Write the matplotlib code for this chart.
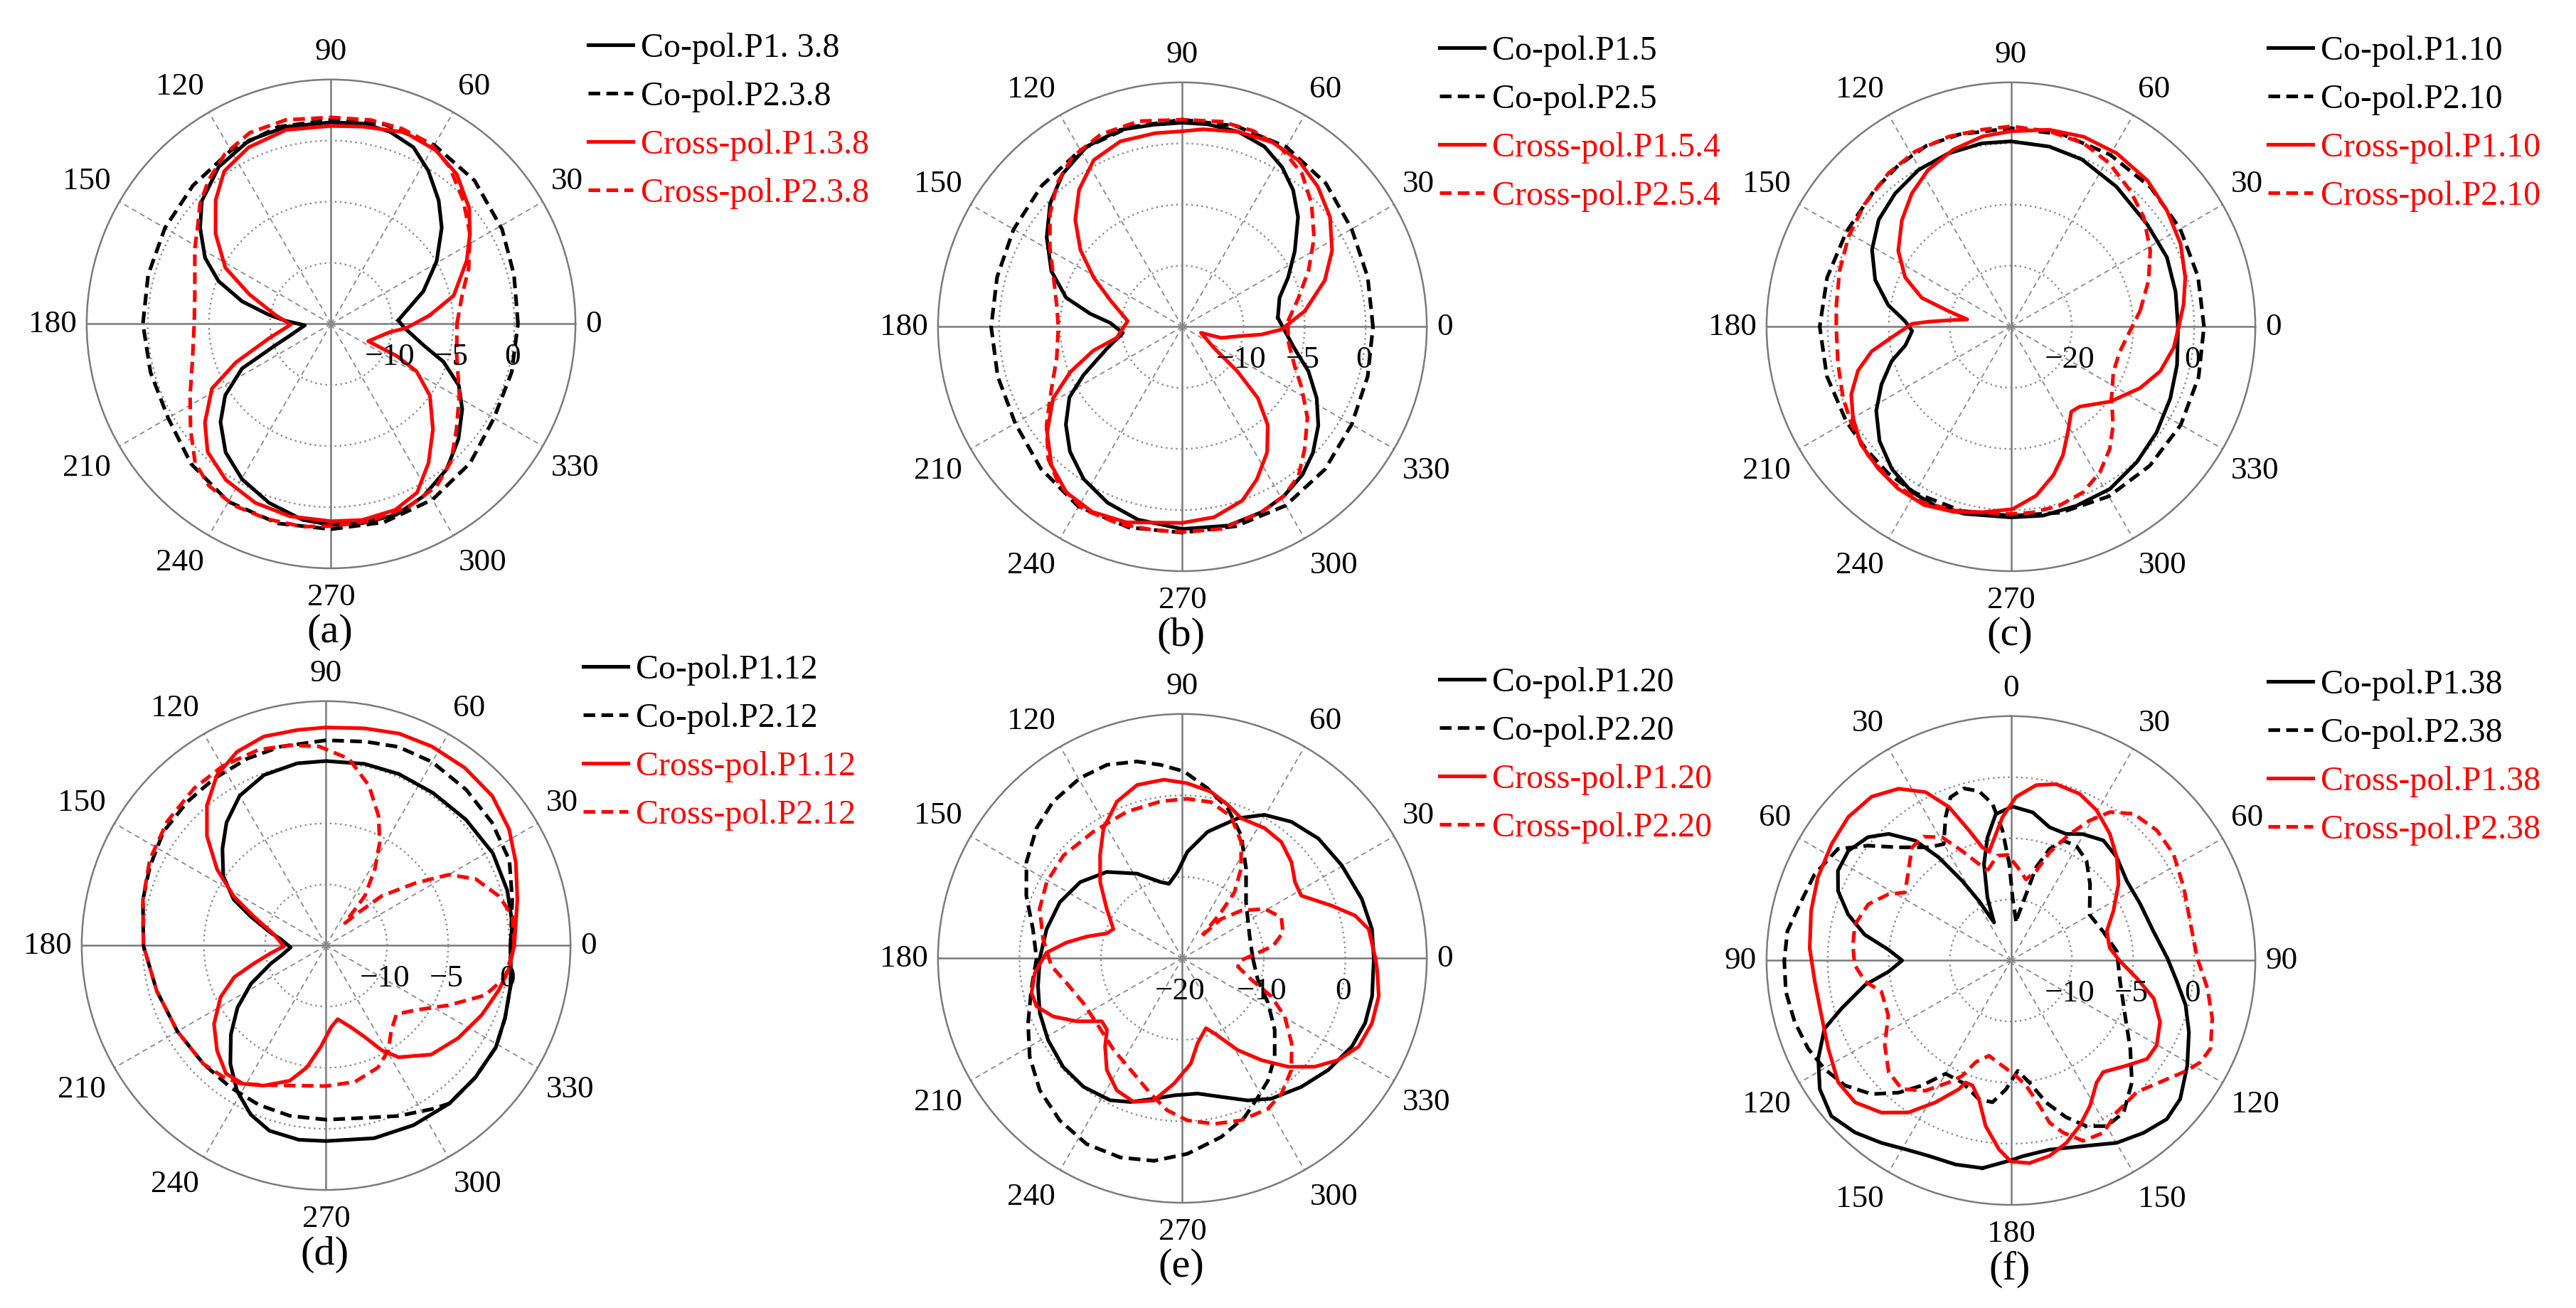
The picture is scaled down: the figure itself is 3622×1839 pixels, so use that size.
import numpy as np
import matplotlib
matplotlib.use("Agg")
import matplotlib.pyplot as plt
from matplotlib import font_manager

_names = {f.name for f in font_manager.fontManager.ttflist}
_serif = [n for n in ['Liberation Serif', 'Times New Roman', 'Nimbus Roman', 'DejaVu Serif'] if n in _names]
plt.rcParams['font.family'] = 'serif'
plt.rcParams['font.serif'] = _serif + ['DejaVu Serif']

# ---------------- data (angle in degrees, gain in dB) ----------------
# (a) 3.8 GHz
A_CO1_DEG = [3, 19.4, 30.7, 41, 48.9, 57.6, 65, 73, 81, 90, 102.9, 114.1, 125.6, 136.4, 143.7, 152.3, 159.2, 165.8, 171.7, 176.2, 183, 195.9, 200.9, 206.6, 214, 221.6, 230.6, 240.2, 250.9, 261.7, 270, 279.1, 288.9, 298.2, 308.5, 317.9, 327, 334.3, 341.4, 347.1, 356.6]
A_CO1_DB = [-9.5, -7.0, -4.95, -3.0, -1.6, -0.15, 0.95, 1.45, 1.6, 1.5, 1.55, 1.45, 0.8, -0.4, -1.7, -3.35, -5.15, -7.5, -9.85, -11.3, -12.85, -11.5, -10.15, -6.85, -4.55, -2.9, -1.4, -0.35, 0.5, 1.2, 1.45, 1.5, 1.5, 1.0, 0.2, -0.95, -2.2, -3.4, -5.3, -7.25, -8.95]
A_CO2_DEG = [0, 15, 29, 45, 60, 75, 90, 105, 120, 135, 150, 165, 180, 195, 210, 225, 240, 255, 270, 285, 300, 315, 330, 345]
A_CO2_DB = [0.3, 0.5, 1.0, 1.6, 1.9, 1.9, 1.7, 1.7, 1.4, 1.0, 0.7, 0.5, 0.4, 0.3, 0.4, 1.2, 1.8, 1.9, 1.8, 1.8, 1.6, 1.1, 0.4, 0.3]
A_X1_DEG = [5, 13, 25, 33, 40, 50, 59, 69, 81, 90, 103, 115, 125, 133, 142, 152, 160, 171, 181, 193, 202, 208.5, 218, 226, 236, 247, 258, 270, 279, 289, 297, 305, 314, 324, 331, 334, 335, 352, 357]
A_X1_DB = [-6.9, -4.7, -2.75, -1.45, -0.25, 1.0, 1.6, 1.8, 1.35, 1.2, 1.3, 0.95, 0.25, -1.15, -3.0, -5.2, -7.85, -10.4, -11.7, -9.8, -6.6, -3.9, -1.9, -0.45, 0.4, 0.9, 1.1, 1.15, 1.25, 1.1, 0.5, -1.1, -3.0, -5.0, -7.0, -9.05, -11.65, -10.15, -8.8]
A_X2_DEG = [0, 12.6, 22, 33, 43, 53, 61, 70, 79, 90, 102.5, 113, 122, 130.5, 137.5, 144, 151, 168, 180, 195, 207, 217, 225.6, 233, 242, 252, 262, 270, 281, 293, 303, 311, 320, 331, 346]
A_X2_DB = [-4.7, -4.0, -2.85, -1.45, -0.2, 1.1, 1.85, 2.0, 2.0, 1.9, 2.1, 2.0, 1.4, 0.45, -0.45, -1.5, -2.25, -3.6, -3.8, -3.25, -2.05, -0.6, 0.9, 1.6, 1.85, 1.8, 1.75, 1.55, 1.45, 1.25, 0.85, -0.05, -1.6, -3.0, -4.4]

# (b) 5 / 5.4 GHz
B_CO1_DEG = [5.4, 16.7, 25, 34, 43.5, 51, 58, 65.5, 74, 83, 90, 98, 107.5, 118, 128, 137, 146.6, 157, 166, 172, 177, 186, 196, 206, 212, 220, 228, 237, 247, 257, 270, 283, 293, 301, 309, 316, 324, 332, 340.5, 349, 357.6]
B_CO1_DB = [-7.15, -6.7, -5.45, -3.9, -1.95, -0.6, 0.4, 1.2, 1.6, 1.7, 1.7, 1.7, 1.9, 1.7, 0.9, -0.2, -1.7, -3.35, -5.2, -7.4, -9.1, -10.1, -8.6, -6.0, -4.1, -2.55, -1.25, -0.15, 0.65, 1.2, 1.55, 1.7, 1.5, 1.15, 0.6, -0.15, -1.25, -2.55, -4.05, -5.65, -6.6]
B_CO2_DEG = [0, 15, 30, 45, 60, 75, 90, 105, 120, 135, 150, 165, 180, 195, 210, 225, 240, 255, 270, 285, 300, 315, 330, 345]
B_CO2_DB = [0.6, 0.7, 1.0, 1.6, 2.0, 2.0, 1.95, 1.9, 1.7, 1.3, 0.95, 0.7, 0.65, 0.65, 0.8, 1.4, 2.0, 2.0, 1.85, 1.9, 1.9, 1.5, 1.0, 0.7]
B_X1_DEG = [7.3, 18, 27, 36.6, 46, 55, 64, 74, 84, 90, 98, 108.5, 118, 127, 135, 143, 151, 160, 174, 189.6, 195, 202, 209, 218, 226.6, 235, 244, 254, 270, 279.5, 289, 296, 304, 311, 316.6, 321, 326, 342, 344, 351, 354.4, 358.4]
B_X1_DB = [-4.9, -2.75, -1.25, 0.05, 0.95, 1.6, 1.8, 1.6, 1.25, 1.0, 1.0, 1.0, 0.45, -0.95, -2.6, -4.55, -6.7, -8.75, -10.5, -9.55, -7.45, -5.1, -2.9, -0.95, 0.6, 1.55, 1.85, 1.65, 1.05, 0.8, 0.05, -1.1, -2.6, -4.35, -6.5, -9.2, -11.85, -13.4, -11.7, -10.15, -8.5, -6.9]
B_X2_DEG = [3, 14, 24, 34, 43.6, 52, 61, 70, 79, 90, 102, 113, 123, 131, 139.5, 149, 159, 170, 180, 194, 206, 216, 224.5, 232, 241.5, 252.5, 262, 270, 281, 293, 301, 308, 315, 324, 333, 341, 352]
B_X2_DB = [-6.35, -5.2, -3.7, -2.0, -0.4, 0.9, 1.7, 2.05, 2.1, 1.95, 2.2, 2.1, 1.55, 0.6, -0.75, -2.35, -3.7, -4.55, -4.85, -4.4, -3.05, -1.25, 0.4, 1.4, 2.0, 1.95, 1.8, 1.8, 1.85, 1.5, 1.15, 0.45, -0.85, -2.35, -4.05, -5.3, -6.25]

# (c) 10 GHz
C_CO1_DEG = [0, 12, 24, 37, 53, 67, 78, 90, 99, 110, 120.5, 131, 141, 151, 161, 170, 177, 182.5, 190, 196, 204, 212, 221, 230, 239, 247, 256, 270, 279.6, 290, 301.4, 313, 324, 335.8, 347]
C_CO1_DB = [-2.65, -2.45, -2.05, -2.1, -1.3, -0.25, 0.15, 0.35, 0.4, 0.15, -0.2, -1.1, -2.15, -4.0, -6.5, -9.6, -12.65, -13.8, -12.45, -9.7, -6.8, -4.0, -1.5, 0.35, 1.55, 1.8, 1.55, 1.2, 1.35, 1.2, 1.1, 0.25, -0.55, -1.4, -2.1]
C_CO2_DEG = [0, 15, 30, 45, 60, 75, 90, 105, 115, 125, 135, 150, 165, 180, 195, 210, 220, 230, 240, 255, 270, 285, 300, 315, 330, 345]
C_CO2_DB = [1.6, 1.7, 2.0, 2.3, 2.5, 2.6, 2.5, 2.6, 2.7, 2.2, 1.6, 1.1, 1.15, 1.3, 1.2, 1.1, 1.05, 1.3, 1.4, 1.2, 0.95, 1.5, 2.05, 2.15, 2.1, 1.8]
C_X1_DEG = [0, 7.4, 15.8, 26, 36.7, 47, 58.6, 69, 79, 90, 98.5, 108, 118, 126.6, 135.7, 146, 155, 162, 166, 170.4, 174, 176.5, 178.3, 185, 190, 196, 203, 210, 218, 227, 235, 244, 253, 261, 270.5, 278.5, 286, 292, 298.5, 305.4, 310.7, 323, 334.6, 343.4, 352.6]
C_X1_DB = [-2.55, -1.5, -0.35, 0.9, 1.85, 2.75, 3.25, 3.3, 2.85, 2.0, 1.5, 0.5, -1.0, -2.8, -5.05, -7.75, -10.9, -14.65, -19.5, -22.75, -19.8, -16.5, -13.8, -10.45, -6.85, -3.95, -1.6, -0.15, 1.2, 1.8, 2.3, 2.45, 1.7, 0.75, -0.15, -2.05, -4.75, -7.3, -10.45, -12.95, -12.75, -9.65, -6.6, -4.5, -3.15]
C_X2_DEG = [7, 18.5, 28.7, 39.6, 49, 59, 68.5, 79, 90, 98, 108, 118.6, 128.6, 140, 151, 162, 172.7, 180, 192, 203, 212, 222, 232.5, 243, 253, 261, 270, 276.7, 285, 293.6, 301.5, 309, 316, 324.6, 336.4, 347.3, 358]
C_X2_DB = [-8.7, -6.25, -4.0, -1.8, -0.35, 1.25, 2.3, 2.6, 2.8, 2.6, 2.75, 2.7, 2.15, 1.25, 0.4, -0.5, -1.2, -1.4, -1.05, -0.15, 0.65, 1.45, 2.05, 2.2, 1.45, 0.75, 0.65, 0.6, 0.35, -0.45, -2.1, -4.3, -6.75, -9.8, -11.7, -11.7, -10.5]

# (d) 12 GHz
D_CO1_DEG = [0, 7, 17, 29, 42, 55, 67, 78, 90, 99, 110, 120, 129, 137, 146, 153.5, 159, 167, 172, 183, 192.9, 198, 207, 215, 223, 231, 238.5, 246, 253, 262, 270, 284, 296, 308, 318.5, 329, 338, 348]
D_CO1_DB = [0.1, 0.35, 0.5, 0.6, 0.4, 0.25, 0.25, 0.2, 0.1, 0.1, -0.15, -0.85, -2.05, -3.4, -4.85, -6.55, -8.4, -10.35, -11.25, -12.1, -11.2, -10.25, -8.1, -6.15, -4.35, -2.55, -1.05, 0.15, 0.85, 1.05, 1.0, 1.25, 1.35, 1.4, 1.3, 1.2, 0.8, 0.45]
D_CO2_DEG = [0, 14, 25, 36.6, 48, 60, 70, 79, 90, 103, 113, 124, 134, 145, 156, 166, 180, 195, 210, 224, 236, 247, 258, 270, 282.6, 293, 303, 308, 318.5, 329, 338, 348]
D_CO2_DB = [0.1, 0.7, 1.55, 1.9, 2.15, 2.35, 2.3, 2.0, 1.8, 1.7, 1.6, 1.45, 1.35, 1.25, 0.8, 0.45, -0.05, -0.65, -0.95, -1.05, -1.0, -0.85, -0.75, -0.75, -0.55, 0.15, 0.95, 1.4, 1.3, 1.2, 0.8, 0.45]
D_X1_DEG = [0, 7, 13.5, 23.6, 32.5, 42, 52, 62, 71, 80, 90, 97.5, 106.6, 114.7, 122.7, 130.4, 137.4, 145, 152, 158, 168, 181, 188, 194, 199, 206, 215, 224, 232, 239, 246, 255, 261, 267, 273.5, 279, 287, 293, 298, 303, 314, 325, 336, 345.5, 353]
D_X1_DB = [0.4, 0.65, 1.1, 1.95, 2.75, 3.3, 3.45, 3.45, 3.35, 3.05, 2.85, 2.8, 2.85, 2.45, 1.55, 0.05, -1.75, -4.1, -6.45, -8.6, -10.65, -11.55, -10.4, -8.9, -7.05, -5.4, -3.8, -2.6, -1.7, -1.8, -2.45, -3.55, -4.9, -6.7, -8.3, -8.9, -8.0, -6.85, -5.3, -4.1, -2.6, -1.8, -1.05, -0.4, 0.1]
D_X2_DEG = [0, 9, 16, 24, 30, 35, 41.7, 45.6, 50, 52, 57.4, 62.5, 68, 75, 83, 92, 100, 109, 120, 130, 142, 154, 166, 180, 195, 210, 224, 232, 238, 246, 258.5, 270, 282, 293, 300.6, 307.6, 315.7, 324, 334, 342.7, 350]
D_X2_DB = [0.4, 0.45, -0.3, -1.6, -3.4, -6.1, -8.9, -11.25, -12.6, -9.85, -7.6, -5.5, -3.55, -1.45, 0.4, 1.3, 1.65, 1.95, 1.95, 1.8, 1.5, 1.05, 0.45, -0.05, -0.65, -0.95, -1.05, -1.35, -1.7, -2.5, -3.3, -3.5, -3.6, -4.15, -5.0, -6.25, -6.95, -6.0, -3.85, -1.35, -0.1]

# (e) 20 GHz
E_CO1_DEG = [0, 8.8, 18.3, 30.3, 41.4, 51.4, 60.2, 68.4, 78.7, 87.3, 93.3, 100.2, 106, 118.2, 131.2, 143.3, 155.4, 167.9, 180, 190.9, 201, 211.3, 222.3, 232.4, 243, 250.1, 258.5, 266.5, 276.4, 285.6, 294.7, 302.4, 312.8, 322.6, 332.5, 340.5, 348.7]
E_CO1_DB = [3.5, 3.55, 3.2, 2.65, 2.25, 1.45, 0.3, -1.5, -4.15, -6.9, -9.4, -10.7, -10.25, -8.2, -5.9, -4.35, -3.45, -2.95, -2.5, -1.95, -1.25, -0.7, -0.2, -0.1, -0.45, -1.25, -2.4, -3.15, -3.3, -2.35, -0.8, 0.4, 1.5, 2.55, 3.45, 3.8, 3.75]
E_CO2_DEG = [0, 18.5, 41.3, 54.6, 64.5, 73.2, 81.6, 89.5, 96.4, 103, 111.3, 119.6, 129.5, 138.3, 148.3, 158.1, 168.9, 180, 191.7, 202.8, 212.8, 222.8, 232.9, 242.7, 252.7, 262, 271.5, 282.2, 291.4, 298.6, 305.1, 313.2, 322.2, 332.5, 344.4]
E_CO2_DB = [-11.35, -11.3, -9.6, -6.5, -3.25, -0.75, 1.1, 2.95, 3.9, 4.8, 5.5, 5.45, 4.95, 4.0, 2.5, 0.65, -1.3, -2.1, -1.05, 0.55, 2.3, 3.85, 4.95, 5.65, 5.6, 5.1, 4.0, 2.45, 0.95, -0.6, -1.7, -3.45, -5.65, -8.15, -10.4]
E_X1_DEG = [0, 8.9, 13.9, 19.4, 27.8, 34.1, 41.4, 49.6, 57.7, 67.2, 73.5, 80.3, 88.4, 95.9, 104.6, 112.7, 121.3, 128.6, 137.2, 146.8, 157, 161.6, 167.2, 172.2, 177.6, 185.6, 192.9, 198.2, 204.2, 210.8, 218, 223.4, 228.8, 235.9, 243.6, 251.3, 258.6, 266.2, 274.6, 280.1, 288.6, 293.1, 301.1, 307.8, 314.3, 320.7, 326.9, 333.4, 341.1, 349.1, 356.7]
E_X1_DB = [3.7, 3.15, 1.85, -0.55, -3.5, -3.3, -2.15, -1.25, -1.1, -1.35, -0.35, 0.75, 1.5, 2.05, 2.0, 0.85, -1.35, -3.8, -6.25, -8.9, -10.8, -10.25, -7.95, -5.65, -3.3, -1.8, -1.0, -1.15, -2.6, -4.9, -7.45, -7.25, -5.6, -3.45, -1.9, -1.4, -2.2, -4.6, -7.05, -9.4, -10.95, -10.0, -6.85, -4.2, -1.4, 1.0, 2.85, 4.2, 4.6, 4.55, 3.95]
E_X2_DEG = [49, 45.5, 39, 31, 22.5, 14.4, 7.8, 3.2, -2.7, -8.6, -17.1, -23.1, -29.6, -37.9, -45.7, -53.8, -60.4, -70.1, -79.1, -88.2, -95.7, -103.3, -112.9, -126.9, -142.9, -155.7, -168.1, -176.6, -187.8, -199.1, -209.3, -220.9, -234.9, -249.3, -262.1, -271.8, -280.4, -289, -296.8, -303.2, -308.2, -310]
E_X2_DB = [-16.25, -13.25, -10.7, -8.2, -6.85, -7.25, -8.75, -11.1, -13.0, -13.1, -11.15, -8.15, -5.55, -3.0, -0.85, 0.6, 1.25, 1.15, 0.7, -0.1, -1.25, -2.95, -4.65, -5.95, -6.8, -6.65, -5.45, -3.9, -2.75, -1.45, -0.9, -0.7, -1.0, -0.75, -0.55, -0.4, -0.5, -1.6, -4.0, -6.85, -9.65, -12.6]

# (f) 38 GHz (angle measured from the top, clockwise)
F_CO1_DEG = [-172.2, -164.8, -157.2, -150.8, -144.7, -137.8, -130.9, -123.9, -117, -110.1, -105.8, -99.5, -95.2, -90, -85, -80, -74.2, -68.1, -62.6, -56, -49.2, -44, -38.6, -35, -31.5, -28.2, -24, -20.5, -15.6, -10.8, -5.9, 0.6, 8.4, 16.2, 23.6, 29.7, 37.6, 45.7, 55.5, 66.5, 78.4, 89.1, 97.3, 104.3, 111.9, 120.8, 129.3, 135.5, 142.4, 149.9, 158.8, 168.5, 176.6, 180]
F_CO1_DB = [2.15, 2.3, 2.35, 2.7, 3.3, 4.0, 4.45, 3.85, 2.7, 1.25, -0.6, -2.9, -4.95, -6.1, -4.95, -2.85, -1.15, 0.25, 0.95, 1.05, 0.45, -0.6, -2.45, -4.7, -7.35, -9.5, -11.6, -9.5, -6.8, -4.75, -2.95, -2.4, -2.75, -3.65, -3.7, -3.1, -2.6, -2.9, -3.5, -3.45, -3.1, -2.2, -1.3, -0.25, 0.7, 1.8, 2.9, 3.2, 2.8, 2.25, 1.3, 0.8, 1.05, 1.35]
F_CO2_DEG = [7.3, 1.5, -1, -3.7, -6.7, -10.7, -15.3, -20.3, -24.5, -30, -36, -44.8, -51.2, -57.2, -66.3, -76.1, -82.5, -90, -97.9, -105.8, -113.5, -120.2, -127, -133.8, -139.6, -144.6, -150, -158.2, -167, -172.6, -177.8, -183.5, -188.6, -194, -199.4, -204.5, -210, -216.5, -224.8, -233.5, -244.4, -259, -274.9, -287.6, -300.2, -314, -322.9, -330.3, -336.5, -340.9, -344.9, -347.1]
F_CO2_DB = [-11.75, -9.85, -7.1, -4.35, -2.1, -0.9, -0.4, -0.75, -2.1, -4.0, -3.55, -1.95, 0.0, 1.85, 2.55, 2.95, 3.45, 3.55, 3.6, 3.4, 3.1, 2.65, 2.0, 0.8, -0.8, -2.45, -4.3, -4.25, -3.35, -3.3, -4.45, -5.95, -4.9, -3.0, -1.4, -0.1, 0.65, 0.5, -0.95, -2.85, -4.65, -5.9, -6.3, -7.1, -7.55, -6.0, -4.75, -4.2, -4.3, -5.35, -7.1, -9.45]
F_X1_DEG = [-11.3, -3.4, 1.8, 8.2, 14.4, 22.4, 29.7, 38, 45.7, 54.6, 64.3, 73, 82.9, 90.5, 98, 104.9, 112.4, 120.2, 125.9, 132.2, 140.4, 144.9, 151.5, 157.4, 163.1, 168.8, 174.8, 180, 183.6, 188.7, 193, 197.1, 200.4, 202, 208, 214, 220.4, 227.7, 234.8, 244.2, 253.9, 263.9, 273.5, 283.9, 293.2, 303, 311.4, 319.6, 326.8, 333.1, 338, 342.1, 345.8]
F_X1_DB = [-5.9, -3.25, -1.6, -0.5, -0.1, -0.25, -0.85, -1.85, -2.9, -4.2, -5.7, -6.8, -6.85, -6.05, -4.6, -2.9, -1.8, -1.2, -1.25, -2.2, -3.15, -2.8, -1.45, -0.35, 0.6, 1.3, 1.65, 1.45, 0.5, -1.3, -3.35, -4.3, -4.35, -3.65, -1.85, 0.0, 1.35, 2.25, 2.3, 1.6, 1.15, 1.15, 1.5, 1.85, 2.2, 2.5, 2.75, 2.6, 1.8, 0.45, -1.45, -3.8, -5.45]
F_X2_DEG = [-14.7, -7.3, -1.8, 4.1, 10.5, 15.7, 19.7, 24.9, 29.4, 33.7, 39.9, 48.3, 56.8, 67.2, 78.7, 89.3, 98.1, 106.1, 113.8, 118.2, 122, 129.2, 136.3, 145.2, 151.8, 158.2, 163.2, 166.6, 168.9, 173.1, 177.5, 184.6, 193, 199.1, 202.9, 207, 213.3, 220.3, 227.6, 236, 245.9, 256.4, 261.8, 268.4, 275.7, 283, 291.5, 298.4, 302.7, 311.2, 318.8, 324.8, 330.8, 336, 341.7]
F_X2_DB = [-7.4, -6.35, -6.35, -7.35, -8.25, -7.4, -5.6, -3.6, -1.85, -0.4, 0.65, 1.0, 0.9, 0.35, 0.0, 0.25, 1.25, 2.15, 2.85, 2.6, 2.0, 0.75, -0.1, 0.15, 1.0, 0.9, -0.3, -1.35, -2.9, -4.7, -5.55, -6.35, -7.0, -6.2, -4.75, -3.8, -2.25, -1.2, -1.45, -2.55, -4.0, -4.1, -2.95, -2.2, -2.0, -1.9, -2.45, -3.6, -4.7, -3.85, -2.7, -2.6, -3.45, -5.2, -6.7]

LEGEND_SUFFIX = [("P1. 3.8", "P2.3.8", "P1.3.8", "P2.3.8"),
                 ("P1.5", "P2.5", "P1.5.4", "P2.5.4"),
                 ("P1.10", "P2.10", "P1.10", "P2.10"),
                 ("P1.12", "P2.12", "P1.12", "P2.12"),
                 ("P1.20", "P2.20", "P1.20", "P2.20"),
                 ("P1.38", "P2.38", "P1.38", "P2.38")]
CAPTIONS = ["(a)", "(b)", "(c)", "(d)", "(e)", "(f)"]

# ---------------- layout / style ----------------
W, H, DPI = 3623, 1840, 100
R = 343.6
CENTERS = [(465.5, 456.4), (1662.5, 460.4), (2827.5, 460.4),
           (458.5, 1330.4), (1662.5, 1348.4), (2827.5, 1351.4)]
RLIMS = [(-15, 5), (-15, 5), (-30, 10), (-15, 5), (-20, 10), (-15, 5)]
RINGS = [[-10, -5, 0], [-10, -5, 0], [-20, -10, 0], [-10, -5, 0], [-10, 0], [-10, -5, 0]]
RLABELS = [[-10, -5, 0], [-10, -5, 0], [-20, 0], [-10, -5, 0], [-20, -10, 0], [-10, -5, 0]]
NORTH = [False, False, False, False, False, True]

RED = '#ff0000'
LW = 3.7
DASH = (3.2, 1.7)
STYLES = [dict(color='black', lw=LW, ls='-'),
          dict(color='black', lw=LW, ls=(0, DASH)),
          dict(color=RED, lw=LW, ls='-'),
          dict(color=RED, lw=LW, ls=(0, DASH))]
TEXT_COLORS = ['black', 'black', RED, RED]
GRID = '#8a8a8a'
AXC = '#7a7a7a'
TICK_FS = 32.5
LEG_FS = 34.5
CAP_FS = 42

SERIES = [
    [(A_CO1_DEG, A_CO1_DB), (A_CO2_DEG, A_CO2_DB), (A_X1_DEG, A_X1_DB), (A_X2_DEG, A_X2_DB)],
    [(B_CO1_DEG, B_CO1_DB), (B_CO2_DEG, B_CO2_DB), (B_X1_DEG, B_X1_DB), (B_X2_DEG, B_X2_DB)],
    [(C_CO1_DEG, C_CO1_DB), (C_CO2_DEG, C_CO2_DB), (C_X1_DEG, C_X1_DB), (C_X2_DEG, C_X2_DB)],
    [(D_CO1_DEG, D_CO1_DB), (D_CO2_DEG, D_CO2_DB), (D_X1_DEG, D_X1_DB), (D_X2_DEG, D_X2_DB)],
    [(E_CO1_DEG, E_CO1_DB), (E_CO2_DEG, E_CO2_DB), (E_X1_DEG, E_X1_DB), (E_X2_DEG, E_X2_DB)],
    [(F_CO1_DEG, F_CO1_DB), (F_CO2_DEG, F_CO2_DB), (F_X1_DEG, F_X1_DB), (F_X2_DEG, F_X2_DB)],
]

fig = plt.figure(figsize=(W / DPI, H / DPI), dpi=DPI)
fig.patch.set_facecolor('white')


def closed(deg, db):
    t = np.asarray(deg, float)
    v = np.asarray(db, float)
    step = 360.0 if t[-1] > t[0] else -360.0
    return np.append(t, t[0] + step), np.append(v, v[0])


for i in range(6):
    cx, cy = CENTERS[i]
    rmin, rmax = RLIMS[i]
    ax = fig.add_axes([(cx - R) / W, 1 - (cy + R) / H, 2 * R / W, 2 * R / H],
                      projection='polar')
    if NORTH[i]:
        ax.set_theta_zero_location('N')
        ax.set_theta_direction(-1)
    ax.set_ylim(rmin, rmax)
    ax.set_xticks(np.deg2rad([30, 60, 120, 150, 210, 240, 300, 330]))
    ax.set_xticklabels([])
    ax.set_yticks(RINGS[i])
    ax.set_yticklabels([])
    ax.tick_params(length=0)
    ax.xaxis.grid(True, color=GRID, lw=1.3, linestyle=(0, (4, 3)))
    ax.yaxis.grid(True, color=GRID, lw=1.7, linestyle=(0, (1, 2)))
    ax.spines['polar'].set_color(AXC)
    ax.spines['polar'].set_linewidth(1.8)
    for a in (0, 90, 180, 270):
        ax.plot(np.deg2rad([a, a]), [rmin, rmax], color=AXC, lw=1.8, zorder=1.5)

    handles = []
    for (deg, db), st in zip(SERIES[i], STYLES):
        t, v = closed(deg, db)
        ln, = ax.plot(np.deg2rad(t), v, zorder=3, solid_joinstyle='round',
                      dash_capstyle='butt', **st)
        handles.append(ln)

    # angular labels
    if NORTH[i]:
        tl = [(d, str(abs(d))) for d in (0, 30, 60, 90, 120, 150, 180, -150, -120, -90, -60, -30)]
    else:
        tl = [(d, str(d)) for d in range(0, 360, 30)]
    for d, txt in tl:
        a = np.deg2rad(90 - d if NORTH[i] else d)
        ca, sa = np.cos(a), np.sin(a)
        ha = 'left' if ca > 0.3 else ('right' if ca < -0.3 else 'center')
        va = 'bottom' if sa > 0.3 else ('top' if sa < -0.3 else 'center')
        ax.annotate(txt, xy=(0.5 + 0.5 * ca, 0.5 + 0.5 * sa), xycoords='axes fraction',
                    xytext=(14 * ca, 20 * sa), textcoords='offset pixels',
                    ha=ha, va=va, fontsize=TICK_FS, annotation_clip=False)

    # radial labels
    for r in RLABELS[i]:
        txt = '0' if r == 0 else '\u2212%d' % abs(r)
        ax.annotate(txt, xy=(0.5 + 0.5 * (r - rmin) / (rmax - rmin), 0.5),
                    xycoords='axes fraction', xytext=(-3, -46), textcoords='offset pixels',
                    ha='center', va='center', fontsize=TICK_FS, annotation_clip=False,
                    zorder=4)

    s = LEGEND_SUFFIX[i]
    labels = ['Co-pol.' + s[0], 'Co-pol.' + s[1], 'Cross-pol.' + s[2], 'Cross-pol.' + s[3]]
    leg = ax.legend(handles, labels, loc='upper left',
                    bbox_to_anchor=(0.5 + 362 / (2 * R), 0.5 + 410 / (2 * R)),
                    frameon=False, fontsize=LEG_FS, handlelength=1.31,
                    handletextpad=0.23, labelspacing=0.5, borderpad=0, borderaxespad=0)
    for txt, col in zip(leg.get_texts(), TEXT_COLORS):
        txt.set_color(col)

    fig.text((cx - 2) / W, 1 - (cy + 433) / H, CAPTIONS[i], ha='center', va='center',
             fontsize=CAP_FS)

fig.savefig('out.png', dpi=DPI, facecolor='white')
